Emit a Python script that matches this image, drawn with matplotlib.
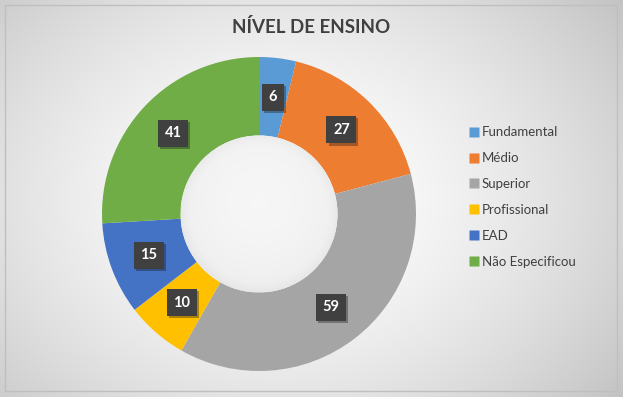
import numpy as np
import matplotlib
matplotlib.use("Agg")
import matplotlib.pyplot as plt
import matplotlib.patheffects as pe
from matplotlib.patches import Rectangle, Circle
from matplotlib.lines import Line2D

categories = ["Fundamental", "Médio", "Superior", "Profissional", "EAD", "Não Especificou"]
values = [6, 27, 59, 10, 15, 41]
colors = ["#5B9BD5", "#ED7D31", "#A5A5A5", "#FFC000", "#4472C4", "#70AD47"]
title = "NÍVEL DE ENSINO"

plt.rcParams['font.family'] = ['Lato', 'DejaVu Sans']

W, H = 623, 397
fig = plt.figure(figsize=(W / 100, H / 100), dpi=100)

# background radial gradient
bg = fig.add_axes([0, 0, 1, 1])
yy, xx = np.mgrid[0:H, 0:W]
cx, cy = W * 0.45, H * 0.5
r = np.sqrt(((xx - cx) / (W * 0.62)) ** 2 + ((yy - cy) / (H * 0.75)) ** 2)
v = np.clip(1.0 - 0.2 * r ** 1.6, 0, 1)
img = np.dstack([v, v, v])
bg.imshow(img, extent=[0, W, H, 0], aspect='auto')
bg.set_xlim(0, W)
bg.set_ylim(H, 0)
bg.axis('off')
bg.add_patch(Rectangle((5, 5), 612, 386, fill=False, edgecolor="#BFBFBF", lw=1))

# donut
R = 157
cxp, cyp = 259, 214
ax = fig.add_axes([(cxp - R) / W, (H - cyp - R) / H, 2 * R / W, 2 * R / H])
wedges, _ = ax.pie(values, colors=colors, startangle=90, counterclock=False,
                   radius=1.0, wedgeprops=dict(width=0.5, edgecolor='none'))

# hole shading (soft inner shadow)
n = 300
gy, gx = np.mgrid[-0.5:0.5:n * 1j, -0.5:0.5:n * 1j]
gr = np.sqrt(gx ** 2 + (gy + 0.08) ** 2) / 0.5
er = np.sqrt(gx ** 2 + gy ** 2) / 0.5
hv = np.clip(0.965 - 0.025 * gr ** 2 - 0.025 * np.clip(er - 0.88, 0, None) / 0.12, 0, 1)
himg = ax.imshow(np.dstack([hv, hv, hv]), extent=[-0.5, 0.5, -0.5, 0.5], zorder=3)
clip = Circle((0, 0), 0.5, transform=ax.transData)
himg.set_clip_path(clip)

ax.set_xlim(-1, 1)
ax.set_ylim(-1, 1)
ax.set_aspect('equal')
ax.axis('off')

total = sum(values)
cum = 0
for val in values:
    mid = 90 - (cum + val / 2) / total * 360
    cum += val
    rr = 0.75
    x = rr * np.cos(np.radians(mid))
    y = rr * np.sin(np.radians(mid))
    t = ax.text(x, y, str(val), ha='center', va='center', color='white',
                fontsize=10.5, fontweight='bold', zorder=5,
                bbox=dict(boxstyle='square,pad=0.45', facecolor='#404040', edgecolor='none'))
    t.get_bbox_patch().set_path_effects([pe.withSimplePatchShadow(offset=(1.5, -1.5), alpha=0.35)])

# title
fig.text(311 / W, 1 - 27 / H, title, ha='center', va='center', fontsize=13.5,
         fontweight='bold', color='#404040')

# legend
handles = [Line2D([0], [0], marker='s', linestyle='none', markersize=7,
                  markerfacecolor=c, markeredgecolor='none') for c in colors]
leg = fig.legend(handles, categories, loc='center left',
                 bbox_to_anchor=(462 / W, 1 - 197 / H), frameon=False,
                 fontsize=9.5, labelspacing=1.05, handletextpad=0.1,
                 handlelength=1.0, borderaxespad=0)
for txt in leg.get_texts():
    txt.set_color('#404040')

fig.savefig("out.png", dpi=100)
